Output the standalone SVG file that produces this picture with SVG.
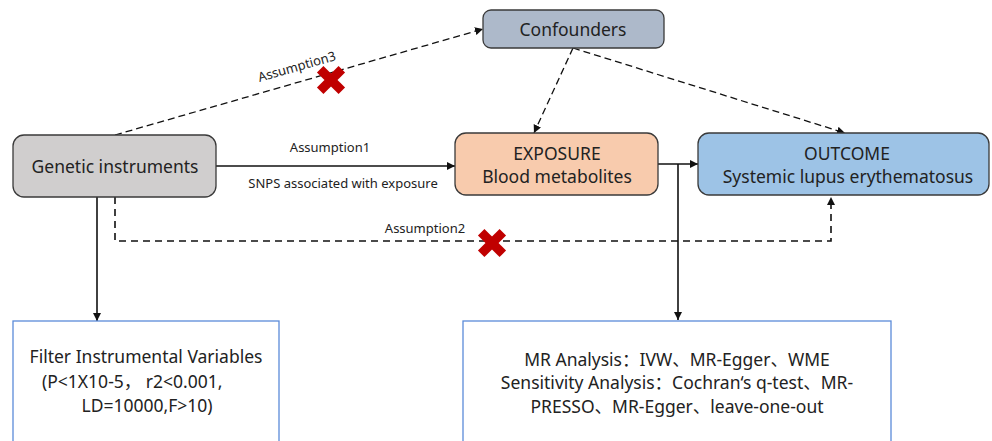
<svg xmlns="http://www.w3.org/2000/svg" width="992" height="441" viewBox="0 0 992 441">
<defs>
<style>
text{font-family:"Noto Sans","Noto Sans CJK SC",sans-serif;fill:#222;}
.node{stroke:#3a3a3a;stroke-width:1.3;}
.t17{font-size:17.5px;text-anchor:middle;}
.t13{font-size:13px;text-anchor:middle;}
.box{fill:#fff;stroke:#5b8bd9;stroke-width:1.3;}
.solid{fill:none;stroke:#111;stroke-width:1.6;}
.dash{fill:none;stroke:#111;stroke-width:1.3;stroke-dasharray:7 4;}
.dash2{fill:none;stroke:#111;stroke-width:1.6;stroke-dasharray:7 5;}
.x{fill:#c00000;}
</style>
<marker id="ah" viewBox="0 0 10 10" refX="10" refY="5" markerWidth="8" markerHeight="8" markerUnits="userSpaceOnUse" orient="auto">
<path d="M0,0 L10,5 L0,10 z" fill="#111"/>
</marker>
<g id="cross"><rect x="-15.3" y="-4.6" width="30.6" height="9.2" transform="rotate(45)"/><rect x="-15.3" y="-4.6" width="30.6" height="9.2" transform="rotate(-45)"/></g>
</defs>
<rect width="992" height="441" fill="#fff"/>

<g id="connectors">
<path class="solid" d="M216,166 L455,166" marker-end="url(#ah)"/>
<path class="dash" d="M115,135 L483,29" marker-end="url(#ah)"/>
<path class="dash" d="M573,48 L534,133" marker-end="url(#ah)"/>
<path class="dash" d="M573,48 L845,133" marker-end="url(#ah)"/>
<path class="solid" d="M658,164 L698,164" marker-end="url(#ah)"/>
<path class="solid" d="M678,164 L678,320" marker-end="url(#ah)"/>
<path class="solid" d="M97,197 L97,321" marker-end="url(#ah)"/>
<path class="dash2" d="M115,197 L115,241 L831,241 L831,197" marker-end="url(#ah)"/>
<text class="t13" x="330" y="152">Assumption1</text>
<text class="t13" x="343" y="188">SNPS associated with exposure</text>
<text class="t13" x="425" y="233">Assumption2</text>
<text class="t13" transform="translate(298,71) rotate(-16)">Assumption3</text>
<use href="#cross" class="x" x="331" y="80"/>
<use href="#cross" class="x" x="492" y="243"/>
</g>

<g id="genetic">
<rect class="node" x="13" y="135" width="203" height="62" rx="11" fill="#d0cece"/>
<text class="t17" x="115" y="173">Genetic instruments</text>
</g>
<g id="confounders">
<rect class="node" x="483" y="10" width="181" height="38" rx="8" fill="#adb9ca"/>
<text class="t17" x="573" y="36">Confounders</text>
</g>
<g id="exposure">
<rect class="node" x="455" y="133" width="203" height="62" rx="11" fill="#f8cbad"/>
<text class="t17" x="557" y="160">EXPOSURE</text>
<text class="t17" x="557" y="183">Blood metabolites</text>
</g>
<g id="outcome">
<rect class="node" x="698" y="133" width="291" height="62" rx="11" fill="#9dc3e6"/>
<text class="t17" x="847" y="160">OUTCOME</text>
<text class="t17" x="848" y="183">Systemic lupus erythematosus</text>
</g>
<g id="filter">
<rect class="box" x="13" y="321" width="266" height="130"/>
<text class="t17" x="146" y="363">Filter Instrumental Variables</text>
<text class="t17" x="42" y="388" style="text-anchor:start">(P&lt;1X10-5， r2&lt;0.001,</text>
<text class="t17" x="147" y="412">LD=10000,F&gt;10)</text>
</g>
<g id="analysis">
<rect class="box" x="463" y="321" width="428" height="130"/>
<text class="t17" x="677" y="366">MR Analysis：IVW、MR-Egger、WME</text>
<text class="t17" x="677" y="389">Sensitivity Analysis：Cochran‘s q-test、MR-</text>
<text class="t17" x="677" y="413">PRESSO、MR-Egger、leave-one-out</text>
</g>
</svg>
